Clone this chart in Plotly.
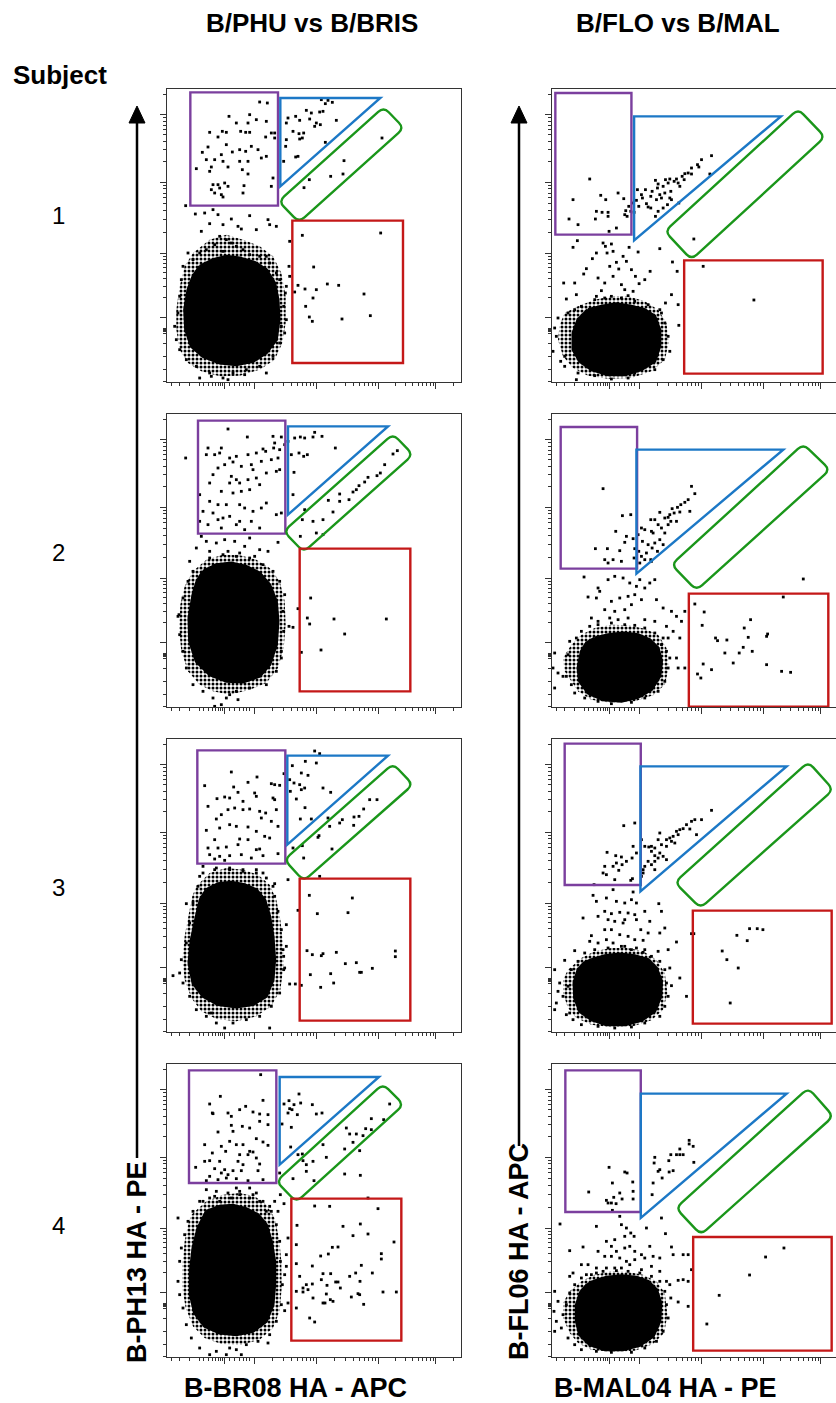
import math
import plotly.graph_objects as go

# ---------------- display scale (channels) ----------------
X_SPAN = [22, 904]
X_SPAN_CUT = [22, 873]          # right-hand column runs off the page edge
Y_SPAN = [0, 879]

X_MAJOR = [195, 283, 470, 655, 828]
X_LOW_MINOR = [35, 60, 90, 118, 130, 145, 158, 168, 176, 183, 189, 210, 225, 240, 250, 260, 270]
X_TOP_MINOR = [880]
Y_MAJOR = [195, 385, 600, 802]
Y_LOW_MINOR = [2, 37, 77, 117, 147, 151, 155, 159, 162]
Y_TOP_MINOR = [863]

COLUMN_TITLES = ["B/PHU vs B/BRIS", "B/FLO vs B/MAL"]
X_TITLES = ["B-BR08 HA - APC", "B-MAL04 HA - PE"]
Y_TITLES = ["B-PH13 HA - PE", "B-FL06 HA - APC"]
SUBJECTS = ["1", "2", "3", "4"]

# ---------------- B/PHU vs B/BRIS, subject 1 ----------------
bris1_core = [(120,347),(160,367),(200,377),(240,372),(285,359),(320,337),(345,297),(355,247),(358,187),(350,127),
              (320,87),(280,62),(230,52),(180,57),(130,77),(95,107),(78,157),(75,217),(85,277),(100,317)]
bris1_halo = [(100,387),(150,427),(200,442),(250,427),(300,407),(340,377),(365,327),(378,257),(378,177),(368,117),
              (345,67),(300,37),(240,19),(180,17),(125,32),(85,57),(60,97),(50,157),(50,217),(60,287),(75,347)]
bris1_fringe = [(180,437),(200,427),(215,417),(165,412),(230,407),(250,397),(140,397),(120,387),(190,392),(270,382),
                (300,377),(320,377),(100,367),(85,387),(330,357),(350,327),(360,307),(372,227),(365,167),(360,117),
                (340,77),(300,47),(260,37),(220,27),(190,12),(150,27),(110,47),(80,67),(60,97),(50,127),(45,167),
                (55,207),(60,257),(65,307),(70,347),(205,7),(120,12),(155,17),(320,27),(255,22)]
bris1_events = [(300,840),(323,837),(208,797),(270,802),(230,777),(265,777),(290,787),(320,782),(150,749),(188,752),
                (200,749),(243,752),(258,749),(270,749),(175,735),(318,735),(335,747),(345,747),(345,732),(145,705),
                (200,712),(218,690),(240,697),(258,692),(275,707),(295,697),(128,689),(185,682),(305,672),(320,677),
                (140,667),(165,667),(190,662),(240,662),(265,662),(110,640),(155,645),(205,645),(248,637),(265,624),
                (150,632),(160,592),(175,592),(195,597),(205,587),(253,589),(335,587),(340,612),(155,577),(165,567),
                (185,562),(190,555),(250,567),(180,582),
                (485,847),(505,845),(518,839),(497,835),(440,815),(455,807),(480,810),(490,812),(385,792),(408,797),
                (420,785),(450,789),(380,777),(400,752),(418,745),(432,747),(470,777),(482,772),(530,785),(380,727),
                (420,729),(428,732),(378,707),(497,719),(408,675),(415,677),(372,662),(465,767),
                (667,732),(553,664),(449,607),(513,617),(550,624),(433,583),
                (78,529),(107,504),(135,507),(160,517),(175,502),(270,499),(325,487),(330,472),(215,489),(235,467),
                (150,475),(190,472),(245,459),(290,457),(125,452),(350,467),
                (428,440),(663,447),(462,345),(415,290),(436,279),(470,277),(503,294),(537,290),(405,270),(460,252),
                (613,264),(438,227),(632,199),(449,195),(458,182),(547,189),
                (390,422),(388,347),(390,317),(380,287),(377,267),(380,187),(375,147)]
bris1_q1 = [92, 355, 529, 869]
bris1_tri = [362, 662, 587, 852]
bris1_diag = [(357,542),(418,479),(733,762),(672,825)]
bris1_q4 = [398, 730, 57, 484]

# ---------------- B/FLO vs B/MAL, subject 1 ----------------
mal1_core = [(130,217),(170,227),(215,235),(260,227),(300,217),(330,197),(345,157),(345,107),(330,62),(290,37),
             (240,22),(190,22),(140,37),(105,62),(85,97),(85,147),(100,187)]
mal1_halo = [(60,207),(100,227),(150,247),(200,257),(250,257),(300,242),(340,217),(365,177),(372,117),(360,67),
             (320,32),(260,12),(190,10),(130,19),(85,42),(55,77),(40,127),(45,172)]
mal1_fringe = [(40,192),(30,162),(35,137),(25,92),(48,62),(60,77),(70,207),(90,217),(110,227),(150,247),(180,252),
               (200,257),(230,252),(250,259),(270,242),(310,232),(350,207),(360,177),(370,137),(375,92),(355,67),
               (330,37),(270,27),(250,12),(200,9),(150,19),(100,27),(60,47),(95,7),(225,22)]
mal1_events = [(135,609),(85,547),(168,560),(183,547),(220,567),(237,550),(155,512),(172,509),(190,509),(243,514),
               (252,527),(240,502),(247,497),(73,489),(100,472),(152,489),(190,497),(215,462),(193,452),
               (500,679),(470,667),(458,652),(462,645),(440,642),(430,627),(420,625),(412,617),(440,624),(418,607),
               (395,609),(400,597),(405,587),(388,602),(375,609),(370,597),(362,607),(355,587),(340,594),(332,605),
               (338,582),(322,572),(345,562),(360,567),(378,572),(375,552),(350,552),(335,547),(318,557),(302,577),
               (290,562),(278,577),(275,545),(293,552),(305,535),(310,525),(318,522),(282,527),(265,537),(258,512),
               (268,509),(332,497),(340,512),(355,522),(368,532),(402,537),(495,624),(380,547),
               (98,424),(85,404),(175,417),(182,407),(200,414),(155,387),(143,370),(187,387),(205,392),(235,377),
               (253,404),(280,390),(345,400),(383,360),(397,332),(125,340),(117,324),(57,297),(90,297),(65,249),
               (95,262),(160,312),(180,297),(195,347),(215,359),(245,362),(260,337),(272,317),(283,295),(316,332),
               (300,307),(230,292),(240,277),(265,272),(170,274),(155,257),(205,317),(222,339),(380,262),(345,217),
               (362,237),(400,232),(402,170),(475,347),(447,429),(627,246)]
mal1_q1 = [32, 260, 442, 867]
mal1_tri = [268, 708, 425, 797]
mal1_diag = [(360,452),(440,367),(840,735),(760,819)]
mal1_q4 = [418, 833, 25, 365]

# ---------------- B/PHU vs B/BRIS, subject 2 ----------------
bris2_core = [(130,407),(170,427),(215,432),(260,422),(300,402),(330,367),(350,317),(355,257),(350,187),(330,127),
              (300,92),(250,75),(200,77),(150,97),(110,137),(90,197),(88,267),(100,337),(112,377)]
bris2_halo = [(100,407),(140,442),(190,457),(240,455),(290,442),(330,417),(360,377),(375,317),(378,247),(372,177),
              (355,117),(320,72),(270,52),(210,37),(160,47),(120,67),(85,107),(65,167),(58,237),(62,307),(75,362)]
bris2_fringe = [(150,447),(190,457),(230,452),(270,447),(310,427),(340,407),(360,377),(375,337),(370,287),(372,227),
                (365,167),(350,107),(320,67),(270,57),(230,47),(200,27),(185,7),(160,27),(130,47),(100,67),(80,117),
                (70,167),(60,217),(58,277),(70,327),(85,377),(100,407),(165,2),(210,37),(235,22),(55,272),(365,147)]
bris2_events = [(205,834),(263,810),(340,812),(365,810),(145,777),(185,777),(140,757),(165,757),(180,762),(210,747),
                (230,752),(265,757),(290,762),(310,774),(318,767),(342,777),(345,792),(360,772),(355,747),(335,742),
                (305,737),(275,727),(245,722),(220,735),(195,727),(175,717),(160,697),(150,672),(215,692),(230,682),
                (210,672),(240,672),(265,682),(280,712),(290,687),(320,702),(350,707),(360,712),(300,667),(270,652),
                (245,647),(220,642),(185,647),(120,637),(150,617),(175,607),(200,607),(240,607),(255,597),(280,587),
                (305,597),(320,612),(350,577),(365,582),(130,587),(160,582),(175,562),(190,567),(210,572),(240,557),
                (275,557),(120,557),(145,547),(185,537),(230,547),(255,532),(300,537),(78,747),
                (385,797),(405,807),(422,810),(435,807),(460,810),(465,824),(487,812),(527,777),(375,787),(395,757),
                (418,762),(432,752),(443,757),(403,704),(400,637),
                (713,769),(700,759),(675,727),(652,694),(662,702),(625,689),(615,675),(598,664),(590,652),(580,645),
                (568,622),(540,639),(540,617),(506,620),(520,585),(490,562),(460,557),(470,522),(490,517),(428,562),
                (435,592),(422,512),
                (125,512),(140,497),(170,492),(195,502),(225,497),(270,507),(255,482),(300,472),(325,467),(355,494),
                (110,477),(150,467),(205,467),(240,462),(285,452),(90,437),
                (453,327),(443,267),(450,249),(523,264),(680,264),(555,219),(484,171),(425,164),
                (415,295),(388,242),(400,239)]
bris2_q1 = [115, 377, 520, 859]
bris2_tri = [385, 685, 577, 842]
bris2_diag = [(372,527),(432,465),(760,757),(700,819)]
bris2_q4 = [420, 752, 47, 475]

# ---------------- B/FLO vs B/MAL, subject 2 ----------------
mal2_core = [(150,207),(190,217),(235,222),(280,217),(315,202),(340,177),(350,137),(345,92),(320,52),(280,29),
             (230,17),(175,22),(130,42),(105,77),(100,117),(110,167),(125,192)]
mal2_halo = [(80,187),(110,217),(150,237),(200,247),(250,245),(300,235),(340,217),(365,177),(372,117),(360,67),
             (325,35),(270,17),(200,12),(140,22),(100,47),(80,77),(60,107),(55,147)]
mal2_fringe = [(30,162),(25,117),(40,102),(55,92),(70,157),(75,197),(95,207),(110,227),(135,242),(160,247),(200,252),
               (240,247),(270,245),(300,237),(330,222),(355,207),(365,167),(370,117),(360,77),(340,47),(300,27),
               (260,14),(200,10),(160,17),(120,27),(90,42),(80,67),(30,57),(65,92),(375,147)]
mal2_events = [(175,655),(233,574),(258,577),(213,527),(152,475),(188,475),(245,512),(265,505),(240,494),(225,469),
               (180,442),(205,442),(230,437),(190,432),
               (440,662),(450,640),(430,622),(420,614),(408,607),(398,599),(382,595),(375,577),(360,567),(345,584),
               (330,562),(318,562),(340,547),(350,537),(360,522),(370,547),(378,557),(395,557),(320,527),(300,532),
               (290,537),(280,517),(293,497),(310,487),(322,477),(330,492),(345,502),(355,487),(338,467),(305,462),
               (290,452),(285,432),(270,475),(268,447),(282,467),(300,442),(320,437),(318,442),(435,587),(405,585),
               (388,582),(370,569),(325,522),
               (118,390),(160,357),(165,347),(190,382),(210,392),(235,387),(255,372),(275,362),(300,357),(315,372),
               (330,382),(285,382),(270,337),(250,332),(225,327),(200,317),(180,292),(210,287),(240,292),(260,307),
               (290,322),(335,322),(355,297),(380,287),(395,272),(410,257),(420,287),(130,330),(155,327),(140,267),
               (160,257),(195,267),(220,262),(250,267),(300,262),(330,257),(365,242),(385,227),(405,207),(370,207),
               (350,187),(395,147),(400,117),(420,117),(450,309),(472,245),(478,285),(775,384),(715,330),
               (512,207),(518,199),(546,201),(598,237),(617,262),(610,209),(668,219),(665,212),(540,162),(583,162),
               (622,167),(595,179),(665,127),(710,107),(737,104),(475,129),(500,112),(468,87),(458,99),(565,132)]
mal2_q1 = [48, 277, 415, 840]
mal2_tri = [275, 715, 400, 772]
mal2_diag = [(380,427),(455,350),(855,712),(775,789)]
mal2_q4 = [432, 850, 1, 340]

# ---------------- B/PHU vs B/BRIS, subject 3 ----------------
bris3_core = [(140,427),(175,445),(215,449),(255,442),(290,427),(315,397),(330,347),(340,287),(345,217),(340,157),
              (320,107),(280,82),(230,75),(175,82),(130,107),(100,147),(88,207),(95,277),(110,347),(122,397)]
bris3_halo = [(110,437),(150,477),(200,492),(250,487),(295,472),(330,442),(350,397),(362,337),(370,267),(372,197),
              (362,127),(335,77),(290,47),(230,32),(170,39),(125,62),(95,102),(75,157),(68,217),(75,287),(88,357),
              (98,407)]
bris3_fringe = [(130,477),(170,492),(210,492),(250,487),(290,477),(320,462),(340,437),(345,407),(355,362),(365,307),
                (370,247),(372,187),(360,117),(335,77),(300,47),(260,37),(220,27),(195,12),(170,27),(140,47),
                (110,67),(90,107),(70,147),(60,177),(65,217),(80,267),(90,327),(100,387),(115,437),(80,385),
                (40,169),(330,12),(155,57)]
bris3_events = [(215,780),(292,765),(265,749),(335,745),(345,742),(360,740),(135,739),(222,735),(235,719),(285,717),
                (340,702),(345,697),(172,700),(195,705),(210,702),(250,692),(290,707),(145,677),(185,652),(205,667),
                (225,672),(250,667),(270,669),(300,662),(318,657),(350,667),(305,642),(335,632),(355,617),(170,639),
                (180,612),(210,622),(230,617),(265,615),(290,602),(140,605),(165,577),(240,579),(265,577),(315,587),
                (330,582),(145,552),(175,552),(200,555),(235,562),(290,547),(300,549),(150,532),(180,527),(210,529),
                (245,532),(275,522),(310,529),(355,535),(165,519),(195,515),
                (465,843),(480,835),(437,812),(470,807),(398,799),(425,777),(445,770),(373,775),(390,757),(403,747),
                (420,742),(435,732),(392,722),(410,699),(425,727),(436,673),(490,732),(513,719),(455,639),(422,639),
                (630,697),(652,697),(612,669),(598,647),(583,645),(582,620),(548,637),(540,627),(505,642),(510,617),
                (475,584),(478,589),(517,549),(428,559),(432,522),(400,552),(480,467),
                (385,457),(130,497),(165,487),(210,487),(250,482),(290,487),(310,477),(345,445),(120,467),
                (449,410),(578,402),(565,358),(473,355),(442,244),(458,232),(485,229),(490,235),(530,239),(557,205),
                (590,208),(600,179),(605,179),(638,191),(707,243),(707,226),(452,172),(513,175),(522,147),(483,134),
                (425,140),(407,144),
                (415,365),(380,322),(380,257),(372,227),(375,192),(390,144)]
bris3_q1 = [113, 377, 505, 845]
bris3_tri = [383, 685, 562, 829]
bris3_diag = [(374,517),(432,453),(760,742),(700,805)]
bris3_q4 = [420, 752, 34, 460]

# ---------------- B/FLO vs B/MAL, subject 3 ----------------
mal3_core = [(140,217),(180,229),(225,234),(270,229),(310,217),(335,192),(350,152),(348,107),(330,62),(290,35),
             (240,22),(185,22),(140,37),(105,62),(90,102),(88,147),(100,187),(118,207)]
mal3_halo = [(70,187),(110,222),(150,242),(200,252),(250,252),(295,242),(335,217),(360,177),(368,117),(355,67),
             (320,35),(265,17),(200,14),(140,22),(95,42),(70,72),(55,117),(55,157)]
mal3_fringe = [(30,187),(45,147),(40,122),(35,87),(55,107),(70,137),(80,187),(100,212),(120,237),(150,247),(190,252),
               (230,257),(260,247),(295,239),(320,227),(345,212),(360,187),(365,147),(370,107),(360,77),(345,47),
               (300,27),(260,15),(210,12),(160,17),(110,22),(85,37),(65,52),(30,67),(75,57)]
mal3_events = [(237,619),(270,627),(500,665),(470,637),(450,637),(440,632),(425,622),(435,609),(455,592),(415,610),
               (405,607),(395,602),(400,592),(385,587),(375,582),(365,577),(380,572),(390,567),(365,557),(350,562),
               (345,597),(340,577),(330,552),(320,557),(312,555),(300,557),(290,577),(345,537),(355,527),(365,517),
               (340,522),(330,512),(320,502),(300,497),(295,487),(290,467),(295,477),(310,512),(330,487),(265,557),
               (275,537),(262,522),(245,512),(232,502),(215,507),(205,497),(222,485),(180,497),(175,477),(185,472),
               (213,529),(230,525),(187,539),(263,460),(258,455),(148,442),(210,457),(320,542),(330,529),
               (145,410),(155,392),(185,402),(205,427),(215,392),(240,387),(260,397),(275,387),(265,420),(300,362),
               (342,385),(350,362),(180,362),(200,355),(225,359),(250,357),(270,352),(160,347),(115,342),(190,337),
               (210,332),(235,327),(240,337),(275,337),(315,332),(288,307),(310,297),(345,297),(360,312),(395,270),
               (440,295),(447,295),(180,307),(200,307),(225,292),(250,287),(270,277),(295,275),(140,289),(135,272),
               (160,267),(185,277),(205,267),(240,257),(275,252),(300,247),(340,242),(370,247),(90,244),(60,215),
               (375,192),(405,162),(380,139),(425,107),
               (614,310),(637,310),(654,307),(576,290),(607,274),(532,243),(546,217),(580,192),(556,87)]
mal3_q1 = [60, 288, 441, 865]
mal3_tri = [287, 725, 422, 797]
mal3_diag = [(390,449),(467,372),(865,727),(790,810)]
mal3_q4 = [444, 860, 25, 364]

# ---------------- B/PHU vs B/BRIS, subject 4 ----------------
bris4_core = [(140,437),(180,452),(220,455),(260,445),(295,427),(320,397),(335,347),(345,287),(345,217),(340,157),
              (320,107),(280,77),(230,67),(180,72),(135,92),(105,132),(92,187),(92,257),(100,327),(115,387)]
bris4_halo = [(95,427),(140,467),(190,487),(240,492),(285,482),(320,457),(345,417),(358,357),(365,287),(366,207),
              (360,137),(340,87),(300,52),(245,37),(185,39),(135,57),(100,92),(78,147),(68,207),(68,277),(75,347),
              (85,397)]
bris4_fringe = [(130,467),(165,482),(205,492),(240,497),(280,487),(310,467),(335,437),(350,397),(360,347),(362,287),
                (368,217),(365,157),(350,107),(330,67),(295,47),(260,37),(230,22),(200,7),(170,17),(150,7),(120,27),
                (95,57),(80,97),(70,147),(60,187),(55,227),(60,287),(65,327),(75,367),(85,407),(55,417),(100,437),
                (325,42),(245,7),(210,27)]
bris4_events = [(303,847),(182,782),(310,770),(150,759),(158,732),(205,732),(215,722),(240,742),(258,752),(280,735),
                (300,729),(325,727),(160,730),(215,695),(248,692),(270,687),(300,707),(325,697),(175,675),(220,677),
                (290,655),(310,645),(135,637),(185,632),(210,647),(230,637),(250,637),(270,617),(280,615),(325,635),
                (158,612),(198,617),(240,607),(265,607),(290,597),(135,587),(150,589),(180,587),(235,587),(250,577),
                (300,579),(108,569),(165,565),(195,562),(220,559),(245,559),(295,559),(185,552),(205,547),(150,542),
                (175,532),(200,537),(230,535),(265,529),(140,529),(310,532),
                (418,789),(423,762),(388,769),(373,759),(403,757),(390,745),(397,742),(413,727),(385,732),(458,757),
                (470,729),(487,732),(367,699),(395,689),(393,630),(360,552),
                (690,759),(635,715),(672,712),(618,685),(635,682),(560,687),(570,669),(590,669),(610,664),(580,644),
                (555,624),(600,619),(490,637),(500,599),(460,587),(430,589),(440,577),(440,557),(555,549),(463,529),
                (400,535),(415,607),(428,609),
                (602,545),(625,477),(373,460),(362,487),(345,467),(330,452),(320,437),(300,467),(270,477),(240,487),
                (215,477),(180,467),(150,477),(120,467),(140,502),(170,497),(230,507),(270,507),(290,492),(355,437),
                (385,357),(380,307),(380,272),(375,247),(385,162),(375,139),
                (465,453),(510,452),(655,445),(412,395),(550,392),(602,399),(580,364),(625,369),(410,337),(518,329),
                (535,330),(483,303),(506,309),(665,310),(665,294),(703,345),(458,273),(605,275),(410,280),(490,250),
                (513,250),(588,252),(638,252),(420,242),(440,217),(430,207),(458,219),(502,215),(528,225),(535,225),
                (570,242),(601,227),(485,232),(410,197),(430,195),(445,202),(460,177),(500,189),(512,172),(520,167),
                (575,180),(595,190),(600,187),(670,195),(710,195),(496,162),(490,162),(612,158),(410,147),(450,117),
                (465,105),(542,207)]
bris4_q1 = [88, 350, 522, 860]
bris4_tri = [360, 658, 577, 840]
bris4_diag = [(350,527),(410,465),(732,757),(670,819)]
bris4_q4 = [395, 725, 49, 475]

# ---------------- B/FLO vs B/MAL, subject 4 ----------------
mal4_core = [(145,227),(185,239),(230,244),(275,239),(310,227),(335,202),(348,162),(345,107),(325,62),(285,35),
             (235,22),(180,22),(135,37),(105,67),(95,107),(95,157),(108,195),(125,215)]
mal4_halo = [(75,197),(110,227),(150,247),(200,257),(250,255),(295,247),(335,227),(360,192),(368,127),(358,72),
             (325,39),(270,19),(200,15),(140,22),(100,42),(75,72),(55,117),(55,162)]
mal4_fringe = [(30,197),(40,167),(28,137),(35,107),(30,77),(55,127),(65,157),(75,192),(90,217),(110,237),(140,247),
               (175,257),(215,259),(250,257),(285,252),(320,242),(345,227),(360,197),(365,157),(370,117),(355,77),
               (335,47),(300,27),(260,14),(200,14),(155,17),(110,22),(90,37),(70,57),(50,87)]
mal4_events = [(433,650),(445,632),(433,639),(405,624),(378,607),(395,607),(405,607),(415,607),(372,589),(447,584),
               (330,599),(328,582),(345,562),(340,557),(385,559),(373,555),(352,537),(325,522),(193,569),(240,555),
               (247,552),(203,522),(264,525),(265,497),(225,492),(185,470),(190,462),(207,479),(232,474),(265,474),
               (200,462),(214,460),(132,495),(322,487),(203,440),(350,417),(305,387),(155,392),(46,399),(225,422),
               (230,397),(245,387),(258,372),(268,362),(240,362),(210,352),(185,347),(200,332),(215,317),(240,327),
               (255,332),(270,317),(290,307),(315,332),(362,370),(380,330),(385,307),(415,307),(430,307),(75,319),
               (115,330),(160,317),(180,302),(200,302),(225,297),(245,287),(270,292),(300,297),(325,302),(345,297),
               (110,277),(130,277),(155,267),(185,267),(210,267),(230,267),(255,277),(320,272),(290,262),(85,252),
               (75,242),(125,247),(155,252),(345,257),(400,230),(415,232),(430,227),(365,227),(375,217),(440,262),
               (400,165),(430,152),(378,177),
               (717,327),(662,300),(614,246),(523,185),(486,99)]
mal4_q1 = [62, 288, 435, 860]
mal4_tri = [288, 725, 417, 790]
mal4_diag = [(393,447),(468,367),(865,722),(790,807)]
mal4_q4 = [445, 860, 19, 360]

PANELS = [
    [(bris1_core, bris1_halo, bris1_fringe, bris1_events, bris1_q1, bris1_tri, bris1_diag, bris1_q4),
     (mal1_core, mal1_halo, mal1_fringe, mal1_events, mal1_q1, mal1_tri, mal1_diag, mal1_q4)],
    [(bris2_core, bris2_halo, bris2_fringe, bris2_events, bris2_q1, bris2_tri, bris2_diag, bris2_q4),
     (mal2_core, mal2_halo, mal2_fringe, mal2_events, mal2_q1, mal2_tri, mal2_diag, mal2_q4)],
    [(bris3_core, bris3_halo, bris3_fringe, bris3_events, bris3_q1, bris3_tri, bris3_diag, bris3_q4),
     (mal3_core, mal3_halo, mal3_fringe, mal3_events, mal3_q1, mal3_tri, mal3_diag, mal3_q4)],
    [(bris4_core, bris4_halo, bris4_fringe, bris4_events, bris4_q1, bris4_tri, bris4_diag, bris4_q4),
     (mal4_core, mal4_halo, mal4_fringe, mal4_events, mal4_q1, mal4_tri, mal4_diag, mal4_q4)],
]

# ---------------- page geometry & styles ----------------
W, H = 836, 1403
COL_X = [(167, 461), (552, 836)]
ROW_TOP = [89, 414, 739, 1064]
PANEL_H = 293
FONT = "Arial, Liberation Sans, Helvetica, sans-serif"
GATE_COLORS = {"q1": "#7B3F9E", "tri": "#1C78C6", "diag": "#1A961A", "q4": "#C41818"}
GATE_W = 2.4
AXIS_COLOR = "#333333"


def decade_minors(majors):
    out = []
    for a, b in zip(majors, majors[1:]):
        for k in range(2, 10):
            out.append(a + math.log10(k) * (b - a))
    return out


X_MINOR = X_LOW_MINOR + decade_minors(X_MAJOR[1:]) + X_TOP_MINOR
Y_MINOR = Y_LOW_MINOR + decade_minors(Y_MAJOR) + Y_TOP_MINOR


def rounded_path(corners, r):
    n = len(corners)
    segs = []
    for i in range(n):
        cx, cy = corners[i]
        pts = []
        for j in (i - 1, (i + 1) % n):
            ax, ay = corners[j]
            d = math.hypot(ax - cx, ay - cy)
            pts.append((cx + (ax - cx) * r / d, cy + (ay - cy) * r / d))
        segs.append((pts[0], (cx, cy), pts[1]))
    p = "M {:.1f},{:.1f}".format(*segs[0][2])
    for i in range(1, n + 1):
        a, c, b = segs[i % n]
        p += " L {:.1f},{:.1f} Q {:.1f},{:.1f} {:.1f},{:.1f}".format(a[0], a[1], c[0], c[1], b[0], b[1])
    return p + " Z"


def closed(poly):
    return [p[0] for p in poly] + [poly[0][0]], [p[1] for p in poly] + [poly[0][1]]


fig = go.Figure()
shapes = []
layout_axes = {}
idx = 0
for r, row in enumerate(PANELS):
    for c, (core, halo, fringe, events, q1, tri, diag, q4) in enumerate(row):
        idx += 1
        xa = "x" if idx == 1 else f"x{idx}"
        ya = "y" if idx == 1 else f"y{idx}"
        xkey = "xaxis" if idx == 1 else f"xaxis{idx}"
        ykey = "yaxis" if idx == 1 else f"yaxis{idx}"
        x0, x1 = COL_X[c]
        top = ROW_TOP[r]
        layout_axes[xkey] = dict(
            domain=[x0 / W, x1 / W], range=X_SPAN if c == 0 else X_SPAN_CUT, anchor=ya,
            showline=True, linecolor=AXIS_COLOR, linewidth=1, mirror=True,
            showgrid=False, zeroline=False, showticklabels=False,
            ticks="outside", tickmode="array", tickvals=X_MAJOR, ticklen=6, tickwidth=1, tickcolor=AXIS_COLOR,
            minor=dict(tickmode="array", tickvals=X_MINOR, ticks="outside", ticklen=3, tickwidth=1,
                       tickcolor=AXIS_COLOR, showgrid=False),
            fixedrange=True,
        )
        layout_axes[ykey] = dict(
            domain=[1 - (top + PANEL_H) / H, 1 - top / H], range=Y_SPAN, anchor=xa,
            showline=True, linecolor=AXIS_COLOR, linewidth=1, mirror=(c == 0),
            showgrid=False, zeroline=False, showticklabels=False,
            ticks="outside", tickmode="array", tickvals=Y_MAJOR, ticklen=6, tickwidth=1, tickcolor=AXIS_COLOR,
            minor=dict(tickmode="array", tickvals=Y_MINOR, ticks="outside", ticklen=3, tickwidth=1,
                       tickcolor=AXIS_COLOR, showgrid=False),
            fixedrange=True,
        )
        # speckled edge of the main population
        hx, hy = closed(halo)
        fig.add_trace(go.Scatter(x=hx, y=hy, xaxis=xa, yaxis=ya, mode="lines", fill="toself",
                                 fillcolor="rgba(0,0,0,0)", line=dict(color="rgba(0,0,0,0)", width=0),
                                 fillpattern=dict(shape=".", fgcolor="black", bgcolor="rgba(0,0,0,0)",
                                                  size=4, solidity=0.45, fillmode="replace"),
                                 hoverinfo="skip", showlegend=False))
        # saturated core of the main population
        cx, cy = closed(core)
        fig.add_trace(go.Scatter(x=cx, y=cy, xaxis=xa, yaxis=ya, mode="lines", fill="toself",
                                 fillcolor="black", line=dict(color="black", width=3),
                                 hoverinfo="skip", showlegend=False))
        pts = fringe + events
        fig.add_trace(go.Scatter(x=[p[0] for p in pts], y=[p[1] for p in pts], xaxis=xa, yaxis=ya,
                                 mode="markers", marker=dict(symbol="square", size=2.8, color="black",
                                                             line=dict(width=0)),
                                 hoverinfo="skip", showlegend=False))
        # gates
        gl = dict(width=GATE_W)
        shapes.append(dict(type="rect", xref=xa, yref=ya, x0=q1[0], x1=q1[1], y0=q1[2], y1=q1[3],
                           line=dict(color=GATE_COLORS["q1"], **gl), layer="above"))
        shapes.append(dict(type="path", xref=xa, yref=ya,
                           path=f"M {tri[0]},{tri[2]} L {tri[0]},{tri[3]} L {tri[1]},{tri[3]} Z",
                           line=dict(color=GATE_COLORS["tri"], **gl), layer="above"))
        shapes.append(dict(type="path", xref=xa, yref=ya, path=rounded_path(diag, 22),
                           line=dict(color=GATE_COLORS["diag"], **gl), layer="above"))
        shapes.append(dict(type="rect", xref=xa, yref=ya, x0=q4[0], x1=q4[1], y0=q4[2], y1=q4[3],
                           line=dict(color=GATE_COLORS["q4"], **gl), layer="above"))

# vertical axis arrows
for ax_x, y_end in [(137, 1158), (519, 1146)]:
    shapes.append(dict(type="line", xref="paper", yref="paper", x0=ax_x / W, x1=ax_x / W,
                       y0=1 - y_end / H, y1=1 - 118 / H, line=dict(color="black", width=2.5)))
    shapes.append(dict(type="path", xref="paper", yref="paper",
                       path=f"M {ax_x / W},{1 - 106 / H} L {(ax_x - 8) / W},{1 - 123 / H} "
                            f"L {(ax_x + 8) / W},{1 - 123 / H} Z",
                       fillcolor="black", line=dict(color="black", width=1)))

ann = []
for text, cx in zip(COLUMN_TITLES, [312, 678]):
    ann.append(dict(text=f"<b>{text}</b>", x=cx / W, y=1 - 23 / H, xref="paper", yref="paper",
                    showarrow=False, xanchor="center", yanchor="middle",
                    font=dict(family=FONT, size=26, color="black")))
ann.append(dict(text="<b>Subject</b>", x=11 / W, y=1 - 75 / H, xref="paper", yref="paper",
                showarrow=False, xanchor="left", yanchor="middle",
                font=dict(family=FONT, size=26, color="black")))
for s, cy in zip(SUBJECTS, [215, 552, 888, 1225]):
    ann.append(dict(text=s, x=58 / W, y=1 - cy / H, xref="paper", yref="paper", showarrow=False,
                    xanchor="center", yanchor="middle", font=dict(family=FONT, size=24, color="black")))
for text, cx in zip(X_TITLES, [295, 665]):
    ann.append(dict(text=f"<b>{text}</b>", x=cx / W, y=1 - 1388 / H, xref="paper", yref="paper",
                    showarrow=False, xanchor="center", yanchor="middle",
                    font=dict(family=FONT, size=27, color="black")))
for text, cx, cy in zip(Y_TITLES, [137, 519], [1262, 1252]):
    ann.append(dict(text=f"<b>{text}</b>", x=cx / W, y=1 - cy / H, xref="paper", yref="paper",
                    showarrow=False, xanchor="center", yanchor="middle", textangle=-90,
                    font=dict(family=FONT, size=27, color="black")))

fig.update_layout(width=W, height=H, margin=dict(l=0, r=0, t=0, b=0),
                  paper_bgcolor="white", plot_bgcolor="white",
                  shapes=shapes, annotations=ann, showlegend=False, **layout_axes)

fig.write_html("out.html", config={"displayModeBar": False})
